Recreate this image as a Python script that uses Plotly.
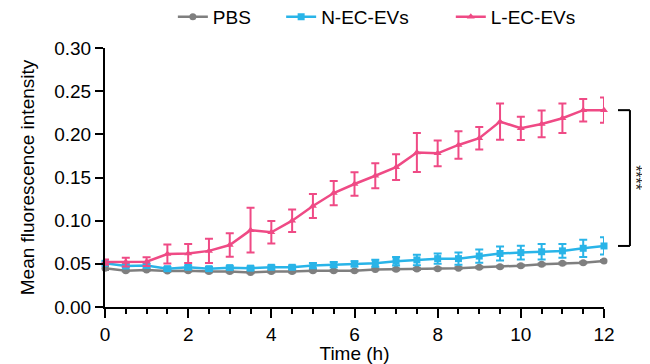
import plotly.graph_objects as go

time_h = [0, 0.5, 1, 1.5, 2, 2.5, 3, 3.5, 4, 4.5, 5, 5.5, 6, 6.5, 7, 7.5, 8, 8.5, 9, 9.5, 10, 10.5, 11, 11.5, 12]

pbs = [0.0448, 0.042, 0.043, 0.0418, 0.042, 0.041, 0.041, 0.040, 0.041, 0.041, 0.042, 0.042, 0.042, 0.0435,
       0.0437, 0.044, 0.0444, 0.045, 0.046, 0.0467, 0.0479, 0.0495, 0.0506, 0.0513, 0.0533]
pbs_err = [0.002, 0.001, 0.001, 0.001, 0.001, 0.001, 0.001, 0.001, 0.001, 0.001, 0.001, 0.001, 0.001, 0.001,
           0.001, 0.001, 0.001, 0.001, 0.001, 0.001, 0.001, 0.001, 0.001, 0.001, 0.001]

n_ec = [0.0506, 0.0475, 0.048, 0.0444, 0.046, 0.0444, 0.0456, 0.045, 0.046, 0.046, 0.048, 0.049, 0.050, 0.0506,
        0.053, 0.0545, 0.056, 0.056, 0.059, 0.062, 0.063, 0.064, 0.065, 0.068, 0.0707]
n_ec_err = [0.002, 0.002, 0.002, 0.002, 0.002, 0.002, 0.002, 0.002, 0.002, 0.002, 0.003, 0.003, 0.003, 0.004,
            0.005, 0.006, 0.006, 0.007, 0.0077, 0.008, 0.008, 0.009, 0.008, 0.01, 0.01]

l_ec = [0.052, 0.052, 0.0525, 0.0614, 0.062, 0.065, 0.0718, 0.089, 0.0865, 0.100, 0.117, 0.132, 0.1425, 0.152,
        0.162, 0.179, 0.178, 0.1877, 0.1955, 0.2147, 0.207, 0.212, 0.2186, 0.228, 0.228]
l_ec_err = [0.003, 0.005, 0.005, 0.011, 0.011, 0.014, 0.0135, 0.026, 0.013, 0.013, 0.014, 0.014, 0.0135, 0.0145,
            0.015, 0.0225, 0.015, 0.016, 0.013, 0.021, 0.0135, 0.0155, 0.017, 0.013, 0.0147]

series_names = ["PBS", "N-EC-EVs", "L-EC-EVs"]
colors = ["#7f7f7f", "#29b4e8", "#ef4a85"]
symbols = ["circle", "square", "triangle-up"]
legend_ids = ["legend", "legend2", "legend3"]
legend_x = [0.136, 0.353, 0.693]

y_ticks = [0.00, 0.05, 0.10, 0.15, 0.20, 0.25, 0.30]
y_tick_labels = ["0.00", "0.05", "0.10", "0.15", "0.20", "0.25", "0.30"]
x_ticks = [0, 2, 4, 6, 8, 10, 12]

font = "Liberation Sans, Arial, sans-serif"

fig = go.Figure()
for name, ys, errs, c, s, lg in zip(series_names, [pbs, n_ec, l_ec], [pbs_err, n_ec_err, l_ec_err], colors, symbols, legend_ids):
    fig.add_trace(go.Scatter(
        x=time_h, y=ys, name=name, mode="lines+markers",
        line=dict(color=c, width=2.5),
        marker=dict(symbol=s, size=7, color=c),
        error_y=dict(type="data", array=errs, visible=True, color=c, thickness=2, width=4),
        cliponaxis=False, legend=lg, showlegend=True,
    ))

# significance bracket between last values of L-EC-EVs and N-EC-EVs
y_top = l_ec[-1]
y_bot = n_ec[-1]
bx0, bx1 = 1.028, 1.052
fig.add_shape(type="line", xref="paper", yref="y", x0=bx0, x1=bx1, y0=y_top, y1=y_top, line=dict(color="black", width=2))
fig.add_shape(type="line", xref="paper", yref="y", x0=bx1, x1=bx1, y0=y_top, y1=y_bot, line=dict(color="black", width=2))
fig.add_shape(type="line", xref="paper", yref="y", x0=bx0, x1=bx1, y0=y_bot, y1=y_bot, line=dict(color="black", width=2))
fig.add_annotation(xref="paper", yref="y", x=1.085, y=(y_top + y_bot) / 2, text="****", textangle=90,
                   showarrow=False, font=dict(family=font, size=16, color="#222222"))

legend_common = dict(orientation="h", y=1.12, yanchor="middle", xanchor="left",
                     font=dict(family=font, size=19), itemwidth=30, bgcolor="rgba(0,0,0,0)")

# the page body has an 8px margin, so the figure is 8px smaller and its margins 8px tighter
fig.update_layout(
    width=642, height=356,
    margin=dict(l=97, r=46, t=40, b=57, autoexpand=False),
    showlegend=True,
    paper_bgcolor="white", plot_bgcolor="white",
    font=dict(family=font, size=19, color="black"),
    legend=dict(x=legend_x[0], **legend_common),
    legend2=dict(x=legend_x[1], **legend_common),
    legend3=dict(x=legend_x[2], **legend_common),
    xaxis=dict(range=[0, 12], tickvals=x_ticks, ticks="outside", ticklen=9, tickwidth=2, tickcolor="black",
               showline=True, linewidth=2, linecolor="black", showgrid=False, zeroline=False, automargin=False,
               minor=dict(dtick=0.5, tick0=0, ticks="outside", ticklen=5, tickwidth=2, tickcolor="black"),
               title=dict(text="Time (h)", font=dict(size=19), standoff=2),
               tickfont=dict(size=19)),
    yaxis=dict(range=[0, 0.30], tickvals=y_ticks, ticktext=y_tick_labels, ticks="outside", ticklen=8, tickwidth=2,
               tickcolor="black", showline=True, linewidth=2, linecolor="black", showgrid=False, zeroline=False,
               automargin=False,
               title=dict(text="Mean fluorescence intensity", font=dict(size=19), standoff=15),
               tickfont=dict(size=19)),
)

fig.write_html("out.html")
